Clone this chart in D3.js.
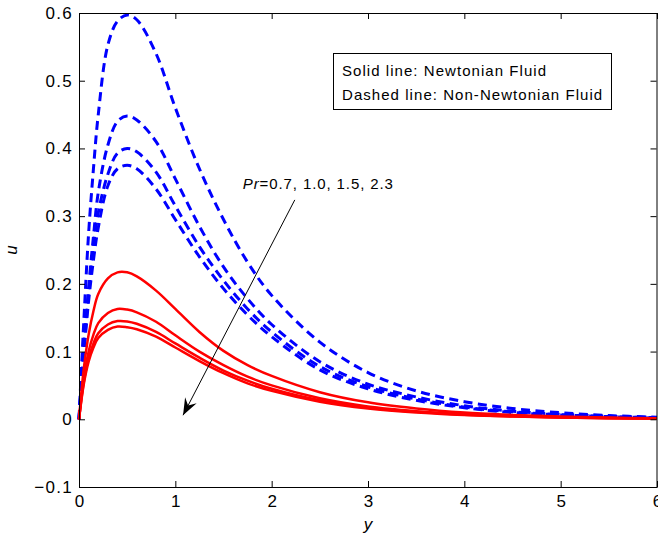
<!DOCTYPE html>
<html>
<head>
<meta charset="utf-8">
<script src="https://cdn.jsdelivr.net/npm/d3@7"></script>
<style>
  body { margin: 0; background: #fff; }
  svg { display: block; font-family: 'Liberation Sans', Arial, sans-serif; }
</style>
</head>
<body>
<div id="chart"></div>
<script>
'use strict';

// sample positions along y
var yVals = [0, 0.05, 0.1, 0.15, 0.2, 0.3, 0.4, 0.5, 0.6, 0.8, 1.0, 1.25, 1.5, 1.75, 2.0, 2.5, 3.0, 3.5, 4.0, 4.5, 5.0, 5.5, 6.0];

// Newtonian fluid, Pr = 0.7, 1.0, 1.5, 2.3
var newt07 = [0, 0.075, 0.125, 0.16, 0.185, 0.208, 0.217, 0.217, 0.211, 0.19, 0.163, 0.129, 0.101, 0.08, 0.064, 0.04, 0.025, 0.016, 0.01, 0.0065, 0.004, 0.0025, 0.0015];
var newt10 = [0, 0.06, 0.1, 0.125, 0.142, 0.157, 0.163, 0.162, 0.158, 0.144, 0.124, 0.1, 0.08, 0.063, 0.05, 0.031, 0.019, 0.012, 0.0075, 0.0047, 0.003, 0.0018, 0.001];
var newt15 = [0, 0.055, 0.09, 0.112, 0.127, 0.14, 0.145, 0.1445, 0.141, 0.129, 0.112, 0.091, 0.072, 0.057, 0.045, 0.028, 0.017, 0.011, 0.0068, 0.0043, 0.0027, 0.0017, 0.001];
var newt23 = [0, 0.052, 0.085, 0.106, 0.12, 0.132, 0.137, 0.136, 0.133, 0.122, 0.106, 0.086, 0.068, 0.053, 0.042, 0.026, 0.016, 0.01, 0.0063, 0.004, 0.0025, 0.0016, 0.001];

// Non-Newtonian fluid, Pr = 0.7, 1.0, 1.5, 2.3
var nonNewt07 = [0, 0.145, 0.275, 0.37, 0.45, 0.553, 0.588, 0.597, 0.59, 0.54, 0.46, 0.37, 0.295, 0.232, 0.183, 0.114, 0.069, 0.042, 0.026, 0.016, 0.0097, 0.0055, 0.003];
var nonNewt10 = [0, 0.105, 0.195, 0.27, 0.335, 0.405, 0.44, 0.448, 0.442, 0.41, 0.355, 0.285, 0.225, 0.178, 0.14, 0.085, 0.052, 0.033, 0.02, 0.012, 0.0075, 0.0045, 0.0025];
var nonNewt15 = [0, 0.1, 0.185, 0.255, 0.305, 0.362, 0.393, 0.4, 0.395, 0.365, 0.315, 0.255, 0.205, 0.163, 0.129, 0.078, 0.048, 0.03, 0.018, 0.011, 0.0068, 0.004, 0.0022];
var nonNewt23 = [0, 0.095, 0.175, 0.235, 0.283, 0.345, 0.37, 0.375, 0.37, 0.34, 0.295, 0.24, 0.193, 0.154, 0.122, 0.073, 0.045, 0.028, 0.017, 0.01, 0.0064, 0.0038, 0.002];

var xTicks = [0, 1, 2, 3, 4, 5, 6];
var yTicks = [-0.1, 0, 0.1, 0.2, 0.3, 0.4, 0.5, 0.6];

var legendLines = ['Solid line: Newtonian Fluid', 'Dashed line: Non-Newtonian Fluid'];
var prLabel = '=0.7, 1.0, 1.5, 2.3';
// arrow from / to in data units
var arrowFrom = [2.24, 0.324];
var arrowTo = [1.08, 0.006];

function draw() {
  var width = 658;
  var height = 539;
  var margin = { top: 13, right: 1, bottom: 52, left: 79 };
  var font = "'Liberation Sans', Arial, sans-serif";

  var svg = d3.select('#chart').append('svg')
    .attr('width', width)
    .attr('height', height);

  var x = d3.scaleLinear().domain([0, 6]).range([margin.left, width - margin.right]);
  var y = d3.scaleLinear().domain([-0.1, 0.6]).range([height - margin.bottom, margin.top]);

  var fmt = function(d) { return d === 0 ? '0' : d3.format('.1f')(d).replace('-', '\u2212'); };

  var line = d3.line()
    .x(function(d) { return x(d[0]); })
    .y(function(d) { return y(d[1]); })
    .curve(d3.curveCatmullRom.alpha(0.5));

  function pts(arr) {
    return arr.map(function(v, i) { return [yVals[i], v]; });
  }

  var plot = svg.append('g');

  [nonNewt07, nonNewt10, nonNewt15, nonNewt23].forEach(function(s) {
    plot.append('path')
      .attr('d', line(pts(s)))
      .attr('fill', 'none')
      .attr('stroke', '#0000ff')
      .attr('stroke-width', 3)
      .attr('stroke-dasharray', '9,5.5');
  });

  [newt07, newt10, newt15, newt23].forEach(function(s) {
    plot.append('path')
      .attr('d', line(pts(s)))
      .attr('fill', 'none')
      .attr('stroke', '#ff0000')
      .attr('stroke-width', 2.5);
  });

  // axes, box with inward ticks
  var tickLen = 6;
  var axB = svg.append('g')
    .attr('transform', 'translate(0,' + y(-0.1) + ')')
    .call(d3.axisBottom(x).tickValues(xTicks).tickSizeInner(-tickLen).tickSizeOuter(0).tickPadding(8).tickFormat(d3.format('d')));
  var axL = svg.append('g')
    .attr('transform', 'translate(' + x(0) + ',0)')
    .call(d3.axisLeft(y).tickValues(yTicks).tickSizeInner(-tickLen).tickSizeOuter(0).tickPadding(6).tickFormat(fmt));
  var axT = svg.append('g')
    .attr('transform', 'translate(0,' + y(0.6) + ')')
    .call(d3.axisTop(x).tickValues(xTicks).tickSizeInner(-tickLen).tickSizeOuter(0).tickFormat(''));
  var axR = svg.append('g')
    .attr('transform', 'translate(' + (x(6) - 0.5) + ',0)')
    .call(d3.axisRight(y).tickValues(yTicks).tickSizeInner(-tickLen).tickSizeOuter(0).tickFormat(''));

  [axB, axL, axT, axR].forEach(function(g) {
    g.selectAll('path.domain').attr('stroke', '#000').attr('stroke-width', 1);
    g.selectAll('.tick line').attr('stroke', '#000');
    g.selectAll('.tick text')
      .attr('fill', '#000')
      .attr('font-size', 17)
      .attr('letter-spacing', '1.3px')
      .attr('font-family', font);
  });
  // keep bottom labels centred despite spacing
  axB.selectAll('.tick text').attr('dx', '0.65px');

  // axis labels
  svg.append('text')
    .attr('x', (x(0) + x(6)) / 2)
    .attr('y', 530)
    .attr('text-anchor', 'middle')
    .attr('font-size', 17)
    .attr('font-style', 'italic')
    .text('y');

  svg.append('text')
    .attr('transform', 'translate(17,' + y(0.25) + ') rotate(-90)')
    .attr('text-anchor', 'middle')
    .attr('font-size', 17)
    .attr('font-style', 'italic')
    .text('u');

  // legend box
  var lg = svg.append('g');
  lg.append('rect')
    .attr('x', 333.5).attr('y', 53.5)
    .attr('width', 278).attr('height', 56)
    .attr('fill', '#fff').attr('stroke', '#000').attr('stroke-width', 1);
  legendLines.forEach(function(t, i) {
    lg.append('text')
      .attr('x', 342)
      .attr('y', 76 + i * 24)
      .attr('font-size', 15)
      .attr('letter-spacing', '1.05px')
      .text(t);
  });

  // annotation
  var ann = svg.append('text')
    .attr('x', x(1.7))
    .attr('y', y(0.34))
    .attr('font-size', 15)
    .attr('letter-spacing', '0.9px');
  ann.append('tspan').attr('font-style', 'italic').text('Pr');
  ann.append('tspan').text(prLabel);

  svg.append('defs').append('marker')
    .attr('id', 'head')
    .attr('viewBox', '-18 -8 20 16')
    .attr('markerWidth', 20)
    .attr('markerHeight', 16)
    .attr('markerUnits', 'userSpaceOnUse')
    .attr('refX', 0)
    .attr('refY', 0)
    .attr('orient', 'auto')
    .append('path')
    .attr('d', 'M0,0 L-17,-6.5 L-11,0 L-17,6.5 Z')
    .attr('fill', '#000');

  svg.append('line')
    .attr('x1', x(arrowFrom[0])).attr('y1', y(arrowFrom[1]))
    .attr('x2', x(arrowTo[0])).attr('y2', y(arrowTo[1]))
    .attr('stroke', '#000')
    .attr('stroke-width', 1)
    .attr('marker-end', 'url(#head)');
}

draw();
</script>
</body>
</html>
